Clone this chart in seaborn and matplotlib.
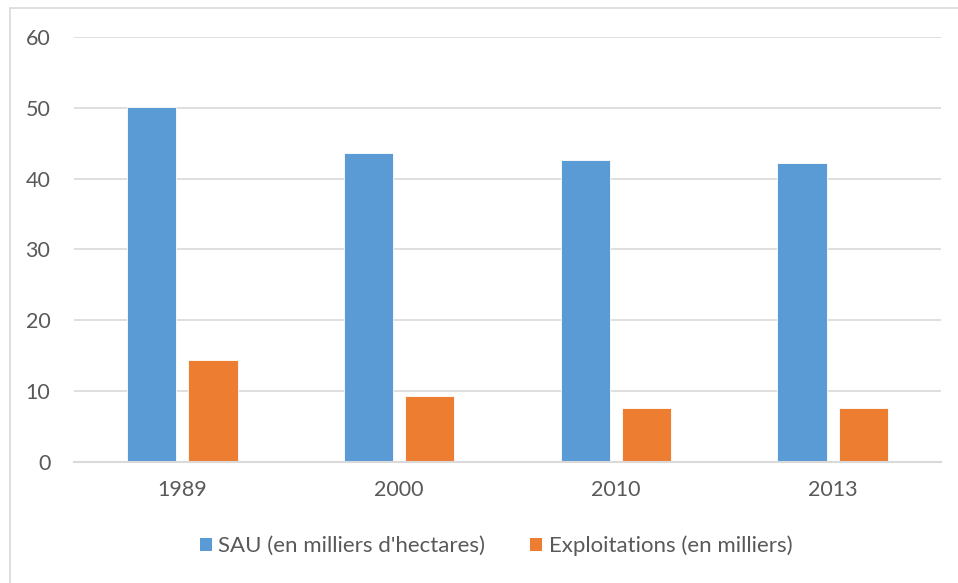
import numpy as np
import pandas as pd
import matplotlib
matplotlib.use("Agg")
import matplotlib.pyplot as plt
import seaborn as sns
from matplotlib.patches import Patch
from matplotlib.lines import Line2D

# data
years = ["1989", "2000", "2010", "2013"]
sau = [50.2, 43.7, 42.7, 42.2]
exploitations = [14.4, 9.2, 7.6, 7.6]
series_names = ["SAU (en milliers d'hectares)", "Exploitations (en milliers)"]
colors = ["#5B9BD5", "#ED7D31"]

df = pd.DataFrame({
    "annee": years * 2,
    "valeur": sau + exploitations,
    "serie": [series_names[0]] * 4 + [series_names[1]] * 4,
})

sns.set_style("white")
plt.rcParams["font.family"] = ["Lato", "DejaVu Sans"]
txt = "#595959"
grid = "#D9D9D9"

fig = plt.figure(figsize=(9.58, 5.83), dpi=100)
ax = fig.add_axes([0.0772, 0.2084, 0.9051, 0.7273])

sns.barplot(data=df, x="annee", y="valeur", hue="serie", palette=colors,
            saturation=1, width=0.567, gap=0.2, edgecolor="white",
            linewidth=0.6, ax=ax, legend=False)

ax.set_xlim(-0.5, 3.5)
ax.set_ylim(0, 60)
ax.set_yticks(np.arange(0, 61, 10))
ax.yaxis.grid(True, color=grid, linewidth=1.2)
ax.set_axisbelow(True)
for s in ["left", "right", "top"]:
    ax.spines[s].set_visible(False)
ax.spines["bottom"].set_color(grid)
ax.spines["bottom"].set_linewidth(1.5)
ax.set_xlabel("")
ax.set_ylabel("")
ax.tick_params(axis="y", length=0, pad=17, labelsize=15.5, labelcolor=txt)
ax.tick_params(axis="x", length=0, pad=13, labelsize=15.5, labelcolor=txt)

handles = [Patch(facecolor=c, edgecolor="none") for c in colors]
fig.legend(handles, series_names, loc="center", bbox_to_anchor=(0.5177, 0.0635),
           ncol=2, frameon=False, fontsize=16, labelcolor=txt,
           handlelength=0.55, handleheight=0.55, handletextpad=0.3,
           columnspacing=2.0)

# chart area border (only top and left visible in the crop)
fig.add_artist(Line2D([9.5 / 958, 9.5 / 958], [0, 1 - 8 / 583],
                      transform=fig.transFigure, color=grid, linewidth=1.2))
fig.add_artist(Line2D([9.5 / 958, 1], [1 - 8 / 583, 1 - 8 / 583],
                      transform=fig.transFigure, color=grid, linewidth=1.2))

fig.savefig("out.png", dpi=100, facecolor="white")
